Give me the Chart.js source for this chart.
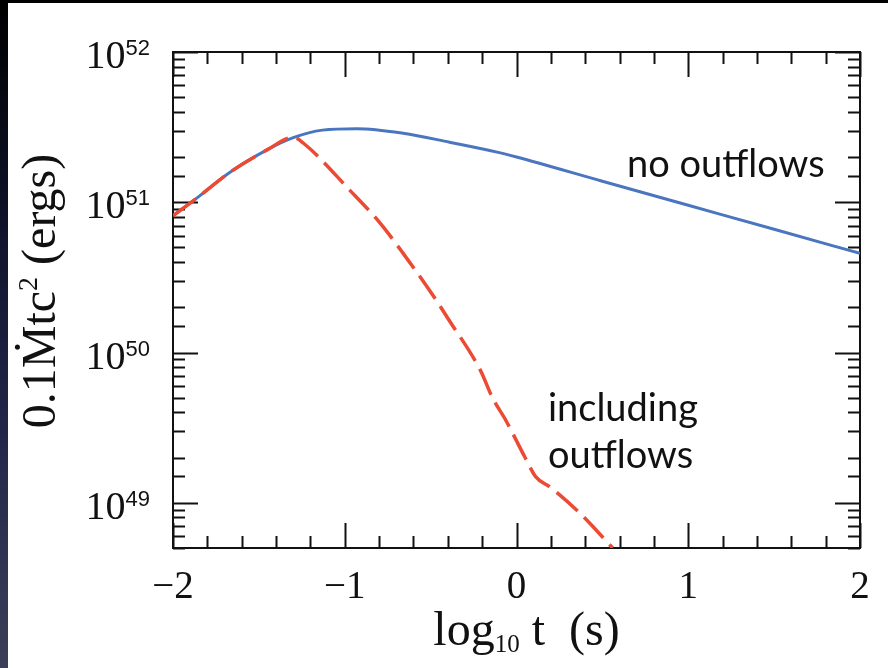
<!DOCTYPE html>
<html>
<head>
<meta charset="utf-8">
<script src="https://cdn.jsdelivr.net/npm/chart.js@4.4.1/dist/chart.umd.min.js"></script>
<style>
  body { margin: 0; background: #fff; overflow: hidden; }
  #wrap { position: relative; width: 888px; height: 668px; }
  #topbar { position: absolute; left: 0; top: 0; width: 888px; height: 3px; background: #000; z-index: 2; }
  #sidebar { position: absolute; left: 0; top: 0; width: 8px; height: 668px; z-index: 2;
    background: linear-gradient(#000 0%, #10142c 35%, #22274a 65%, #3b3f58 100%); }
  canvas { position: absolute; left: 0; top: 0; }
</style>
</head>
<body>
<div id="wrap">
  <div id="topbar"></div>
  <div id="sidebar"></div>
  <canvas id="myChart" width="888" height="668"></canvas>
</div>
<script>
// log10 t (s)
const tNoOutflow = [-2, -1.86, -1.67, -1.45, -1.3, -1.13, -0.93, -0.66, -0.39, -0.1, 0, 0.5, 1, 1.5, 2];
// 0.1 Mdot t c^2 (ergs)
const eNoOutflow = [8.13e50, 1.07e51, 1.58e51, 2.24e51, 2.69e51, 3.02e51, 3.09e51, 2.88e51, 2.51e51, 2.14e51, 2.0e51, 1.38e51, 9.55e50, 6.61e50, 4.57e50];

const tOutflow = [-2, -1.86, -1.67, -1.45, -1.3, -1.24, -0.97, -0.8, -0.66, -0.48, -0.4, -0.21, -0.14, -0.06, 0.05, 0.11, 0.2, 0.37, 0.56];
const eOutflow = [8.13e50, 1.07e51, 1.58e51, 2.24e51, 2.71e51, 2.47e51, 1.2e51, 7.4e50, 4.57e50, 2.34e50, 1.69e50, 7.6e49, 5.0e49, 3.5e49, 2.0e49, 1.5e49, 1.26e49, 8.5e48, 5.0e48];

const xTicks = [-2, -1, 0, 1, 2];
const yTicks = [1e49, 1e50, 1e51, 1e52];

const serif = "'Liberation Serif', serif";
const isPow10 = v => Math.abs(Math.log10(v) - Math.round(Math.log10(v))) < 1e-6;
const isInt = v => Math.abs(v - Math.round(v)) < 1e-6;

// draws a list of [text, fontSize, baselineShift] pieces left to right
function drawPieces(ctx, pieces, x, y) {
  pieces.forEach(([txt, size, dy, fam]) => {
    ctx.font = size + "px " + (fam || serif);
    ctx.fillText(txt, x, y + dy);
    x += ctx.measureText(txt).width;
  });
}
function piecesWidth(ctx, pieces) {
  return pieces.reduce((w, [txt, size, dy, fam]) => {
    ctx.font = size + "px " + (fam || serif);
    return w + ctx.measureText(txt).width;
  }, 0);
}

const frameTicks = {
  id: "frameTicks",
  beforeDatasetsDraw(chart) {
    const { ctx, chartArea: a, scales: { x, y } } = chart;
    ctx.save();
    ctx.strokeStyle = "#111";
    ctx.lineWidth = 2;
    ctx.beginPath();
    x.ticks.forEach(t => {
      const px = Math.round(x.getPixelForValue(t.value)) + 0.5;
      const len = isInt(t.value) ? 25 : 12;
      ctx.moveTo(px, a.bottom); ctx.lineTo(px, a.bottom - len);
      ctx.moveTo(px, a.top); ctx.lineTo(px, a.top + len);
    });
    y.ticks.forEach(t => {
      const py = Math.round(y.getPixelForValue(t.value)) + 0.5;
      const len = isPow10(t.value) ? 25 : 12;
      ctx.moveTo(a.left, py); ctx.lineTo(a.left + len, py);
      ctx.moveTo(a.right, py); ctx.lineTo(a.right - len, py);
    });
    ctx.stroke();
    ctx.strokeRect(a.left, a.top, a.right - a.left, a.bottom - a.top);
    ctx.restore();
  },
  afterDraw(chart) {
    const { ctx, chartArea: a, scales: { x, y } } = chart;
    ctx.save();
    ctx.fillStyle = "#111";
    ctx.textBaseline = "alphabetic";

    // y tick labels: 10 with superscript exponent
    yTicks.forEach(v => {
      const py = y.getPixelForValue(v);
      const exp = String(Math.round(Math.log10(v)));
      const pieces = [["10", 40, 16], [exp, 22, 3, "'Liberation Sans', sans-serif"]];
      const w = piecesWidth(ctx, pieces);
      drawPieces(ctx, pieces, a.left - 23 - w, py);
    });

    // x axis title
    const xt = [["log", 48, 0], ["10", 25, 7], [" t  (s)", 48, 0]];
    drawPieces(ctx, xt, (a.left + a.right) / 2 + 10 - piecesWidth(ctx, xt) / 2, 645);

    // y axis title (rotated)
    const yt = [["0.1\u1e40tc", 48, 0], ["2", 28, -18], [" (ergs)", 48, 0]];
    ctx.save();
    ctx.translate(55, 291);
    ctx.rotate(-Math.PI / 2);
    drawPieces(ctx, yt, -piecesWidth(ctx, yt) / 2, 0);
    ctx.restore();

    // curve annotations
    ctx.font = "38px Lato, 'Open Sans', sans-serif";
    ctx.fillText("no outflows", x.getPixelForValue(0.643), y.getPixelForValue(1.47e51));
    ctx.fillText("including", x.getPixelForValue(0.183), y.getPixelForValue(3.5e49));
    ctx.fillText("outflows", x.getPixelForValue(0.183), y.getPixelForValue(1.71e49));
    ctx.restore();
  }
};

new Chart(document.getElementById("myChart"), {
  type: "line",
  data: {
    datasets: [
      {
        label: "including outflows",
        data: tOutflow.map((t, i) => ({ x: t, y: eOutflow[i] })),
        borderColor: "rgb(236, 74, 50)",
        borderWidth: 3.5,
        borderDash: [28, 9],
        pointRadius: 0,
        cubicInterpolationMode: "monotone",
        order: 0,
      },
      {
        label: "no outflows",
        data: tNoOutflow.map((t, i) => ({ x: t, y: eNoOutflow[i] })),
        borderColor: "rgb(74, 118, 192)",
        borderWidth: 3,
        pointRadius: 0,
        cubicInterpolationMode: "monotone",
        order: 1,
      },
    ],
  },
  options: {
    responsive: false,
    animation: false,
    layout: { padding: { left: 0, right: 28, top: 52, bottom: 0 } },
    plugins: { legend: { display: false }, tooltip: { enabled: false } },
    scales: {
      x: {
        type: "linear",
        min: -2,
        max: 2,
        grid: { display: false, drawTicks: false },
        border: { display: false },
        ticks: {
          stepSize: 0.2,
          autoSkip: false,
          maxRotation: 0,
          padding: 16,
          color: "#111",
          font: { family: serif, size: 39 },
          callback: v => (xTicks.some(k => Math.abs(k - v) < 1e-6) ? String(Math.round(v)).replace("-", "\u2212") : ""),
        },
        afterFit: s => { s.height = 120; },
      },
      y: {
        type: "logarithmic",
        min: 5e48,
        max: 1e52,
        grid: { display: false, drawTicks: false },
        border: { display: false },
        ticks: { autoSkip: false, callback: () => "" },
        afterFit: s => { s.width = 173; },
      },
    },
  },
  plugins: [frameTicks],
});
</script>
</body>
</html>
